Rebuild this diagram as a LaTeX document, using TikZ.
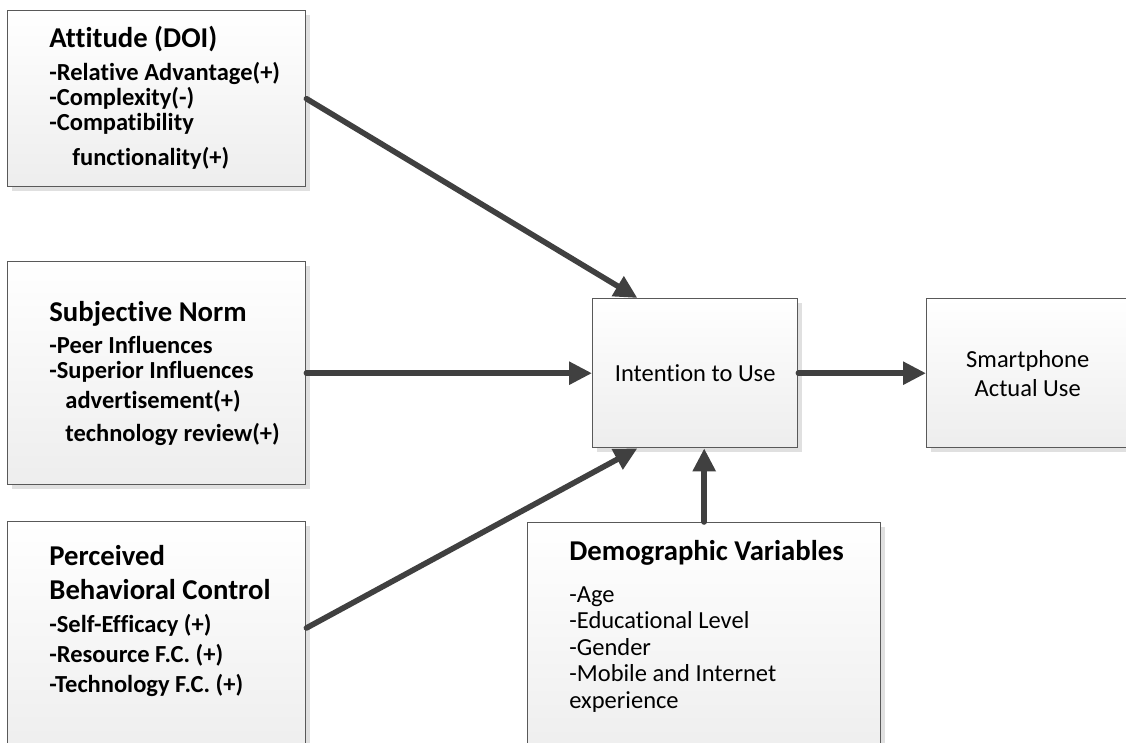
\documentclass[tikz,border=0pt]{standalone}
\usepackage{fontspec}
\setmainfont{Carlito}[Ligatures=CommonOff]
\usetikzlibrary{arrows.meta,calc,shadows}

\newcommand{\ttl}[1]{{\fontsize{14.35}{10}\selectfont #1}}

\tikzset{
  box/.style={draw=black!65, line width=0.7pt, top color=white, bottom color=black!7,
    drop shadow={shadow xshift=2pt, shadow yshift=-2pt, fill=black!12, opacity=1},
    anchor=north west, inner sep=0pt},
  plain/.style={font=\fontsize{12.25}{14.5}\selectfont, align=center},
  txt/.style={anchor=north west, inner sep=0pt, align=left,
    font={\lineskiplimit=-50pt\fontsize{12.25}{10}\selectfont\bfseries}},
  arr/.style={draw=black!75, line width=2.8pt, line cap=round,
    -{Triangle[length=11.5pt,width=11pt]}},
}

\begin{document}
\begin{tikzpicture}[x=0.5pt, y=-0.5pt]
  % canvas
  \path[fill=white, use as bounding box] (0,0) rectangle (1126,743);
  \clip (0,0) rectangle (1126,743);
  % boxes
  \node[box, minimum width=149pt, minimum height=88pt] (att) at (7,10) {};
  \node[box, minimum width=149pt, minimum height=111.5pt] (subj) at (7,261) {};
  \node[box, minimum width=149pt, minimum height=120pt] (pbc) at (7,521) {};
  \node[box, minimum width=176.5pt, minimum height=120pt] (demo) at (527,522) {};
  \node[box, plain, minimum width=102.5pt, minimum height=74.5pt] (intent) at (592,298) {Intention to Use};
  \node[box, plain, minimum width=101pt, minimum height=74.5pt] (actual) at (926,298) {Smartphone\\Actual Use};
  % box texts
  \node[txt] (att-t) at ($(att.north west)+(42,16)$) {\ttl{Attitude (DOI)}\\[6.5pt]
    -Relative Advantage(+)\\[2.5pt]
    -Complexity(-)\\[2.5pt]
    -Compatibility\\[7.5pt]
    \hspace*{11.5pt}functionality(+)};
  \node[txt] (subj-t) at ($(subj.north west)+(42,39.5)$) {\ttl{Subjective Norm}\\[6pt]
    -Peer Influences\\[2.5pt]
    -Superior Influences\\[5pt]
    \hspace*{8pt}advertisement(+)\\[6.5pt]
    \hspace*{8pt}technology review(+)};
  \node[txt] (pbc-t) at ($(pbc.north west)+(42,23.5)$) {\ttl{Perceived}\\[7pt]
    \ttl{Behavioral Control}\\[6.5pt]
    -Self-Efficacy (+)\\[5pt]
    -Resource F.C. (+)\\[5pt]
    -Technology F.C. (+)};
  \node[txt, font={\lineskiplimit=-50pt\fontsize{12.25}{10}\selectfont}] (demo-t)
    at ($(demo.north west)+(42,17.5)$) {\ttl{\bfseries Demographic Variables}\\[11pt]
    -Age\\[3.25pt]
    -Educational Level\\[3.25pt]
    -Gender\\[3.25pt]
    -Mobile and Internet\\[3.25pt]
    experience};
  % arrows
  \draw[arr] (att.east) -- ($(intent.north west)!0.22!(intent.north east)$);
  \draw[arr] (subj.east) -- (intent.west);
  \draw[arr] ($(pbc.north east)+(0,107)$) -- ($(intent.south west)!0.22!(intent.south east)$);
  \draw[arr] (demo.north) -- (demo.north |- intent.south);
  \draw[arr] (intent.east) -- (actual.west);
\end{tikzpicture}
\end{document}
